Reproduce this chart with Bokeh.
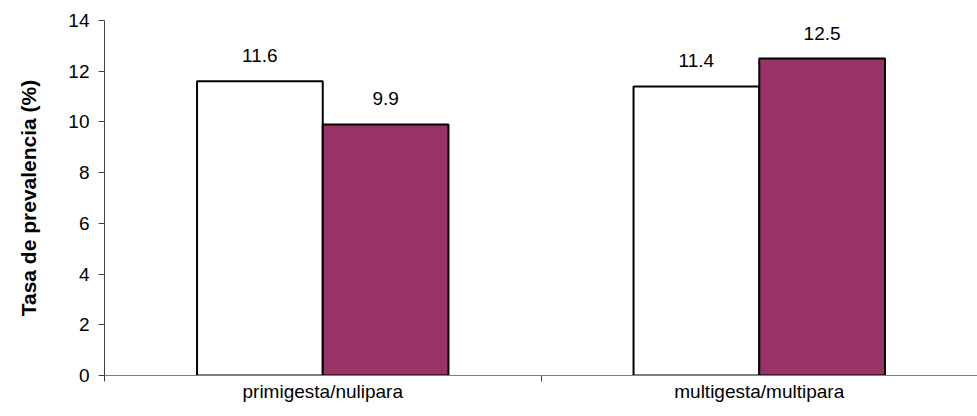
from bokeh.plotting import figure
from bokeh.models import ColumnDataSource, Range1d, FixedTicker, LabelSet
from bokeh.core.properties import value
from bokeh.transform import dodge
from bokeh.embed import file_html
from bokeh.resources import INLINE

categories = ["primigesta/nulipara", "multigesta/multipara"]
series_a = [11.6, 11.4]   # white bars
series_b = [9.9, 12.5]    # purple bars
y_ticks = [0, 2, 4, 6, 8, 10, 12, 14]

FONT = "Liberation Sans"
BAR_W = 0.288

n = len(categories)
centers = [i + 0.5 for i in range(n)]
boundaries = list(range(n))

src = ColumnDataSource(data=dict(
    x=centers,
    a=series_a,
    b=series_b,
    a_lab=[f"{v:.1f}" for v in series_a],
    b_lab=[f"{v:.1f}" for v in series_b],
))

p = figure(width=977, height=416, output_backend="svg", toolbar_location=None,
           x_range=Range1d(0, n), y_range=Range1d(0, 14),
           min_border_left=104, min_border_top=20, min_border_right=0,
           min_border_bottom=41)
p.outline_line_color = None
p.grid.visible = False
p.background_fill_color = "white"
p.border_fill_color = "white"

# bars
p.vbar(x=dodge("x", -BAR_W / 2), top="a", width=BAR_W,
       source=src, fill_color="white", line_color="black", line_width=2)
p.vbar(x=dodge("x", BAR_W / 2), top="b", width=BAR_W,
       source=src, fill_color="#993366", line_color="black", line_width=2)

# value labels
for xoff, col in [(-BAR_W / 2, "a"), (BAR_W / 2, "b")]:
    p.add_layout(LabelSet(x=dodge("x", xoff), y=col,
                          text=col + "_lab", source=src, text_align="center",
                          text_baseline="bottom", y_offset=19,
                          text_font=value(FONT), text_font_size=value("19px"),
                          text_color="black"))

# y axis
ya = p.yaxis[0]
ya.ticker = FixedTicker(ticks=y_ticks)
ya.minor_tick_line_color = None
ya.axis_line_color = "#404040"
ya.major_tick_line_color = "#404040"
ya.major_tick_out = 6
ya.major_tick_in = 0
ya.major_label_standoff = 9
ya.major_label_text_font = FONT
ya.major_label_text_font_size = "19px"
ya.major_label_text_color = "black"
ya.axis_label = "Tasa de prevalencia (%)"
ya.axis_label_text_font = FONT
ya.axis_label_text_font_size = "21px"
ya.axis_label_text_font_style = "bold"
ya.axis_label_text_color = "black"
ya.axis_label_standoff = 25

# x axis: labels at category centres, ticks at category boundaries
xa = p.xaxis[0]
xa.ticker = FixedTicker(ticks=centers, minor_ticks=boundaries)
xa.major_label_overrides = {c: name for c, name in zip(centers, categories)}
xa.major_tick_line_color = None
xa.major_tick_out = 0
xa.major_tick_in = 0
xa.minor_tick_line_color = "#404040"
xa.minor_tick_out = 6
xa.minor_tick_in = 0
xa.axis_line_color = "#808080"
xa.major_label_standoff = -1
xa.major_label_text_font = FONT
xa.major_label_text_font_size = "19px"
xa.major_label_text_color = "black"

open("out.html", "w").write(file_html(p, INLINE))
